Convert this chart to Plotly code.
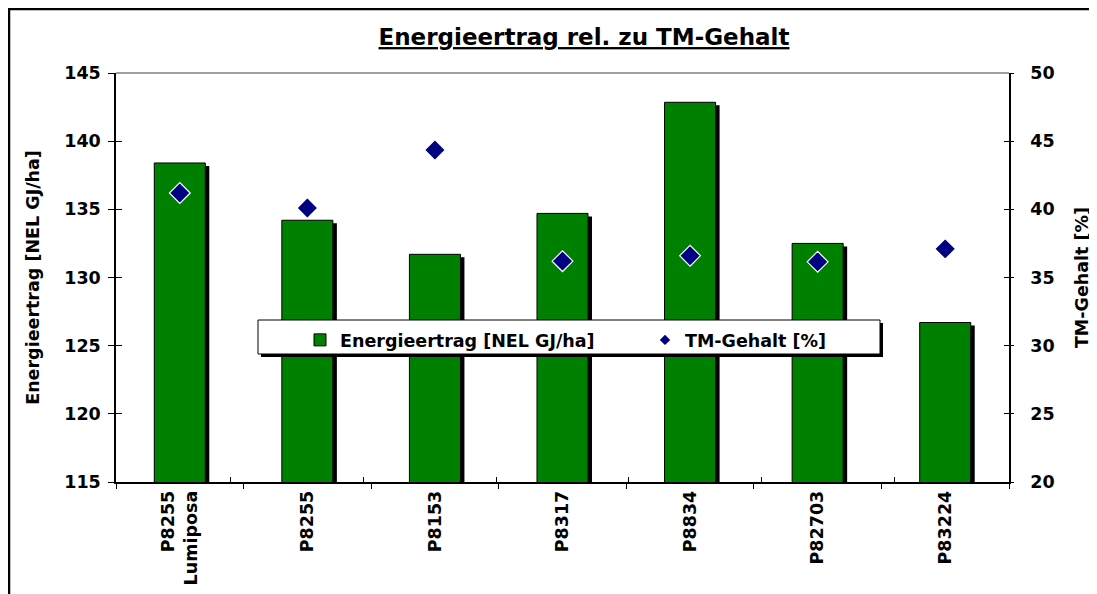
import plotly.graph_objects as go

categories = ["P8255<br>Lumiposa", "P8255", "P8153", "P8317", "P8834", "P82703", "P83224"]
energie = [138.4, 134.2, 131.7, 134.7, 142.85, 132.5, 126.7]
tm_gehalt = [41.2, 40.1, 44.35, 36.2, 36.6, 36.15, 37.1]

FONT = "DejaVu Sans"
GREEN = "#008000"
NAVY = "#000080"

OFF = 8  # page body margin of the html page
W, H = 1097, 594
# plot area in page pixels
L, R, T, B = 116, 1009, 73, 482
PW, PH = R - L, B - T

def px_x(p):
    return (p - L) / PW

def px_y(p):
    return (B - p) / PH

y_per_px = 30 / PH
cat_per_px = 7 / PW

fig = go.Figure()

# bar shadows
fig.add_trace(go.Bar(
    x=categories, y=[v - 3 * y_per_px for v in energie],
    width=0.4, offset=-0.2 + 4 * cat_per_px,
    marker=dict(color="black", line=dict(width=0)),
    showlegend=False, hoverinfo="skip", yaxis="y",
))
fig.add_trace(go.Bar(
    x=categories, y=energie, name="Energieertrag [NEL GJ/ha]",
    width=0.4, offset=-0.2,
    marker=dict(color=GREEN, line=dict(color="black", width=1)),
    yaxis="y",
))
fig.add_trace(go.Scatter(
    x=categories, y=tm_gehalt, mode="markers", name="TM-Gehalt [%]",
    marker=dict(symbol="diamond", size=16, color=NAVY, line=dict(color="white", width=1.2)),
    yaxis="y2", showlegend=False,
))
# legend entry for markers (legend-only)
fig.add_trace(go.Scatter(
    x=[None], y=[None], mode="markers", name="TM-Gehalt [%]",
    marker=dict(symbol="diamond", size=8, color=NAVY),
    yaxis="y2", showlegend=True,
))
# helper traces so the inner-tick axes are drawn
fig.add_trace(go.Scatter(x=categories, y=[None] * len(categories), xaxis="x2", yaxis="y3",
                         showlegend=False, hoverinfo="skip"))
fig.add_trace(go.Scatter(x=categories, y=[None] * len(categories), xaxis="x2", yaxis="y4",
                         showlegend=False, hoverinfo="skip"))

shapes = []
# outer chart border (left and top edges; the rest runs off the page)
shapes.append(dict(type="line", xref="paper", yref="paper",
                   x0=px_x(OFF + 1), x1=px_x(OFF + 1), y0=px_y(700), y1=px_y(OFF + 1),
                   line=dict(color="black", width=2.5), layer="above"))
shapes.append(dict(type="line", xref="paper", yref="paper",
                   x0=px_x(OFF), x1=px_x(1200), y0=px_y(OFF + 1), y1=px_y(OFF + 1),
                   line=dict(color="black", width=2.5), layer="above"))
# top gridline
shapes.append(dict(type="line", xref="paper", yref="paper", x0=0, x1=1, y0=1, y1=1,
                   line=dict(color="#808080", width=1.5), layer="below"))
# legend box shadow + box
shapes.append(dict(type="rect", xref="paper", yref="paper",
                   x0=px_x(261), x1=px_x(883), y0=px_y(357), y1=px_y(323),
                   line=dict(width=0), fillcolor="black", layer="above"))
shapes.append(dict(type="rect", xref="paper", yref="paper",
                   x0=px_x(258), x1=px_x(880), y0=px_y(354), y1=px_y(320),
                   line=dict(color="black", width=1), fillcolor="white", layer="above"))

tickfont = dict(family=FONT, size=17.5, weight="bold", color="black")

fig.update_layout(
    width=W, height=H,
    margin=dict(l=L - OFF, r=W - (R - OFF), t=T - OFF, b=H - (B - OFF), autoexpand=False),
    paper_bgcolor="white", plot_bgcolor="white",
    font=dict(family=FONT, size=17.5, color="black", weight="bold"),
    barmode="overlay",
    title=dict(text="<u>Energieertrag rel. zu TM-Gehalt</u>",
               font=dict(family=FONT, size=23, color="black", weight="bold"),
               x=px_x(584), xref="paper", xanchor="center",
               y=1 - (37 - OFF) / H, yref="container", yanchor="middle"),
    xaxis=dict(type="category", showline=True, linecolor="black", linewidth=1.5,
               ticks="outside", ticklen=5, tickcolor="black", tickson="boundaries",
               tickangle=-90, showgrid=False, zeroline=False, tickfont=tickfont,
               ticklabelstandoff=0),
    xaxis2=dict(type="category", overlaying="x", anchor="y", showline=False,
                ticks="inside", ticklen=5, tickcolor="black", tickson="boundaries",
                showticklabels=False, showgrid=False, zeroline=False,
                categoryorder="array", categoryarray=categories),
    yaxis=dict(range=[115, 145], dtick=5, showline=True, linecolor="black", linewidth=1.5,
               ticks="outside", ticklen=6, tickcolor="black", showgrid=False, zeroline=False,
               title=dict(text="Energieertrag [NEL GJ/ha]", standoff=20,
                          font=dict(family=FONT, size=17.5, weight="bold")),
               tickfont=tickfont, ticklabelstandoff=4),
    yaxis2=dict(range=[20, 50], dtick=5, overlaying="y", side="right", showline=True,
                linecolor="black", linewidth=1.5, ticks="outside", ticklen=3, tickcolor="black",
                showgrid=False, zeroline=False,
                title=dict(text="TM-Gehalt [%]", standoff=22,
                           font=dict(family=FONT, size=17.5, weight="bold")),
                tickfont=tickfont, ticklabelstandoff=13),
    yaxis3=dict(range=[115, 145], dtick=5, overlaying="y", side="left", anchor="x",
                showline=False, ticks="inside", ticklen=6, tickcolor="black",
                showticklabels=False, showgrid=False, zeroline=False),
    yaxis4=dict(range=[20, 50], dtick=5, overlaying="y", side="right", anchor="x",
                showline=False, ticks="inside", ticklen=5, tickcolor="black",
                showticklabels=False, showgrid=False, zeroline=False),
    legend=dict(orientation="h", x=px_x(300), y=px_y(322), xanchor="left", yanchor="top",
                bgcolor="rgba(0,0,0,0)", borderwidth=0, entrywidth=300, entrywidthmode="pixels",
                font=dict(family=FONT, size=17.5, weight="bold"), traceorder="normal"),
    shapes=shapes,
)

fig.write_html("out.html")
